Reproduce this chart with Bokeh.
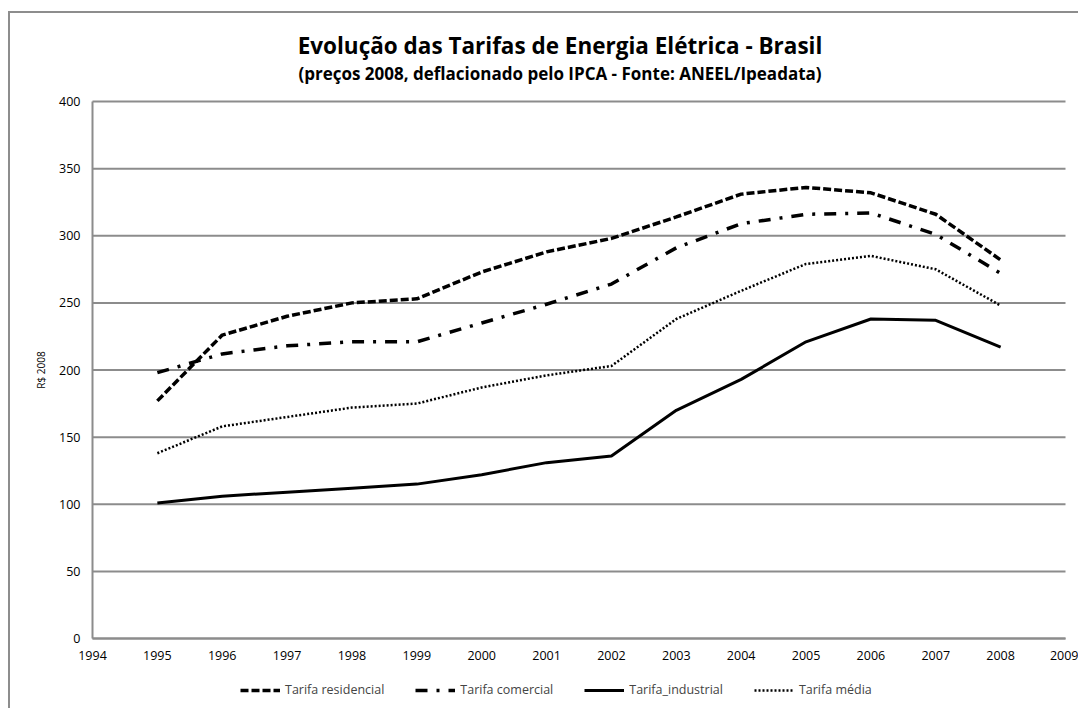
from bokeh.plotting import figure
from bokeh.models import ColumnDataSource, Legend, LegendItem, FixedTicker
from bokeh.core.properties import value
from bokeh.layouts import column
from bokeh.embed import file_html
from bokeh.resources import INLINE

anos = [1995, 1996, 1997, 1998, 1999, 2000, 2001, 2002, 2003, 2004, 2005, 2006, 2007, 2008]
residencial = [177, 226, 240, 250, 253, 273, 288, 298, 314, 331, 336, 332, 316, 282]
comercial = [198, 212, 218, 221, 221, 235, 249, 264, 291, 309, 316, 317, 301, 272]
industrial = [101, 106, 109, 112, 115, 122, 131, 136, 170, 193, 221, 238, 237, 217]
media = [138, 158, 165, 172, 175, 187, 196, 203, 238, 259, 279, 285, 275, 248]

x_ticks = list(range(1994, 2010))
y_ticks = list(range(0, 401, 50))

titulo = "Evolução das Tarifas de Energia Elétrica - Brasil"
subtitulo = "(preços 2008, deflacionado pelo IPCA - Fonte: ANEEL/Ipeadata)"
rotulo_y = "R$ 2008"
nomes = ["Tarifa residencial", "Tarifa comercial", "Tarifa_industrial", "Tarifa média"]

FONT = "Open Sans"
GRID = "#8c8c8c"

src = ColumnDataSource(dict(ano=anos, res=residencial, com=comercial, ind=industrial, med=media))
grid_src = ColumnDataSource(dict(y=y_ticks, x0=[x_ticks[0]] * len(y_ticks), x1=[x_ticks[-1]] * len(y_ticks)))

# The frame fills the whole canvas; the 1994-2009 / 0-400 chart area sits inside it,
# with the axes pinned at x=1994 and y=0, titles above and the legend below.
p = figure(frame_width=1068, frame_height=695, x_range=(1992.7359, 2009.2004), y_range=(-52.14, 465.55),
           output_backend="svg", toolbar_location=None, title=None,
           min_border_left=0, min_border_right=0, min_border_top=0, min_border_bottom=0)
p.outline_line_color = None
p.background_fill_color = "white"
p.border_fill_color = "white"

# titles
p.text(x=[2001.207], y=[441.7], text=[titulo], text_font=value(FONT), text_font_size="22.5px",
       text_font_style="bold", text_color="black", text_align="center", text_baseline="middle")
p.text(x=[2001.207], y=[420.9], text=[subtitulo], text_font=value(FONT), text_font_size="17px",
       text_font_style="bold", text_color="black", text_align="center", text_baseline="middle")

# horizontal gridlines limited to the chart area
p.segment(x0="x0", x1="x1", y0="y", y1="y", source=grid_src, line_color=GRID, line_width=2)

r1 = p.line("ano", "res", source=src, line_color="black", line_width=3.5, line_dash="8 3")
r2 = p.line("ano", "com", source=src, line_color="black", line_width=3.5, line_dash="12 9 3 9")
r3 = p.line("ano", "ind", source=src, line_color="black", line_width=3)
r4 = p.line("ano", "med", source=src, line_color="black", line_width=2.5, line_dash="2 2")

p.xaxis.ticker = FixedTicker(ticks=x_ticks)
p.yaxis.ticker = FixedTicker(ticks=y_ticks)
for ax in (p.xaxis, p.yaxis):
    ax.axis_line_color = GRID
    ax.axis_line_width = 2
    ax.major_tick_line_color = None
    ax.minor_tick_line_color = None
    ax.major_tick_out = 0
    ax.major_tick_in = 0
    ax.major_label_text_font = FONT
    ax.major_label_text_font_size = "12.5px"
    ax.major_label_text_color = "black"
p.xaxis.fixed_location = 0
p.yaxis.fixed_location = 1994
p.xaxis.bounds = (1994, 2009)
p.yaxis.bounds = (0, 400)
p.xaxis.major_label_standoff = 12
p.yaxis.major_label_standoff = 12
p.yaxis.axis_label = rotulo_y
p.yaxis.axis_label_text_font = FONT
p.yaxis.axis_label_text_font_size = "10px"
p.yaxis.axis_label_text_font_style = "normal"
p.yaxis.axis_label_text_color = "black"
p.yaxis.axis_label_standoff = 8

p.xgrid.grid_line_color = None
p.ygrid.grid_line_color = None

legend = Legend(items=[LegendItem(label=nomes[0], renderers=[r1]),
                       LegendItem(label=nomes[1], renderers=[r2]),
                       LegendItem(label=nomes[2], renderers=[r3]),
                       LegendItem(label=nomes[3], renderers=[r4])],
                orientation="horizontal", location=(230, 10),
                label_text_font=FONT, label_text_font_size="12.5px",
                glyph_width=40, glyph_height=16, label_height=16, spacing=31, label_standoff=5,
                border_line_color=None, background_fill_alpha=0,
                padding=2, margin=0)
p.add_layout(legend)

layout = column(p, styles={"margin-top": "11px", "margin-left": "8px",
                           "border-top": "2px solid #8d8d8d", "border-left": "2px solid #8d8d8d"})

open("out.html", "w").write(file_html(layout, INLINE))
